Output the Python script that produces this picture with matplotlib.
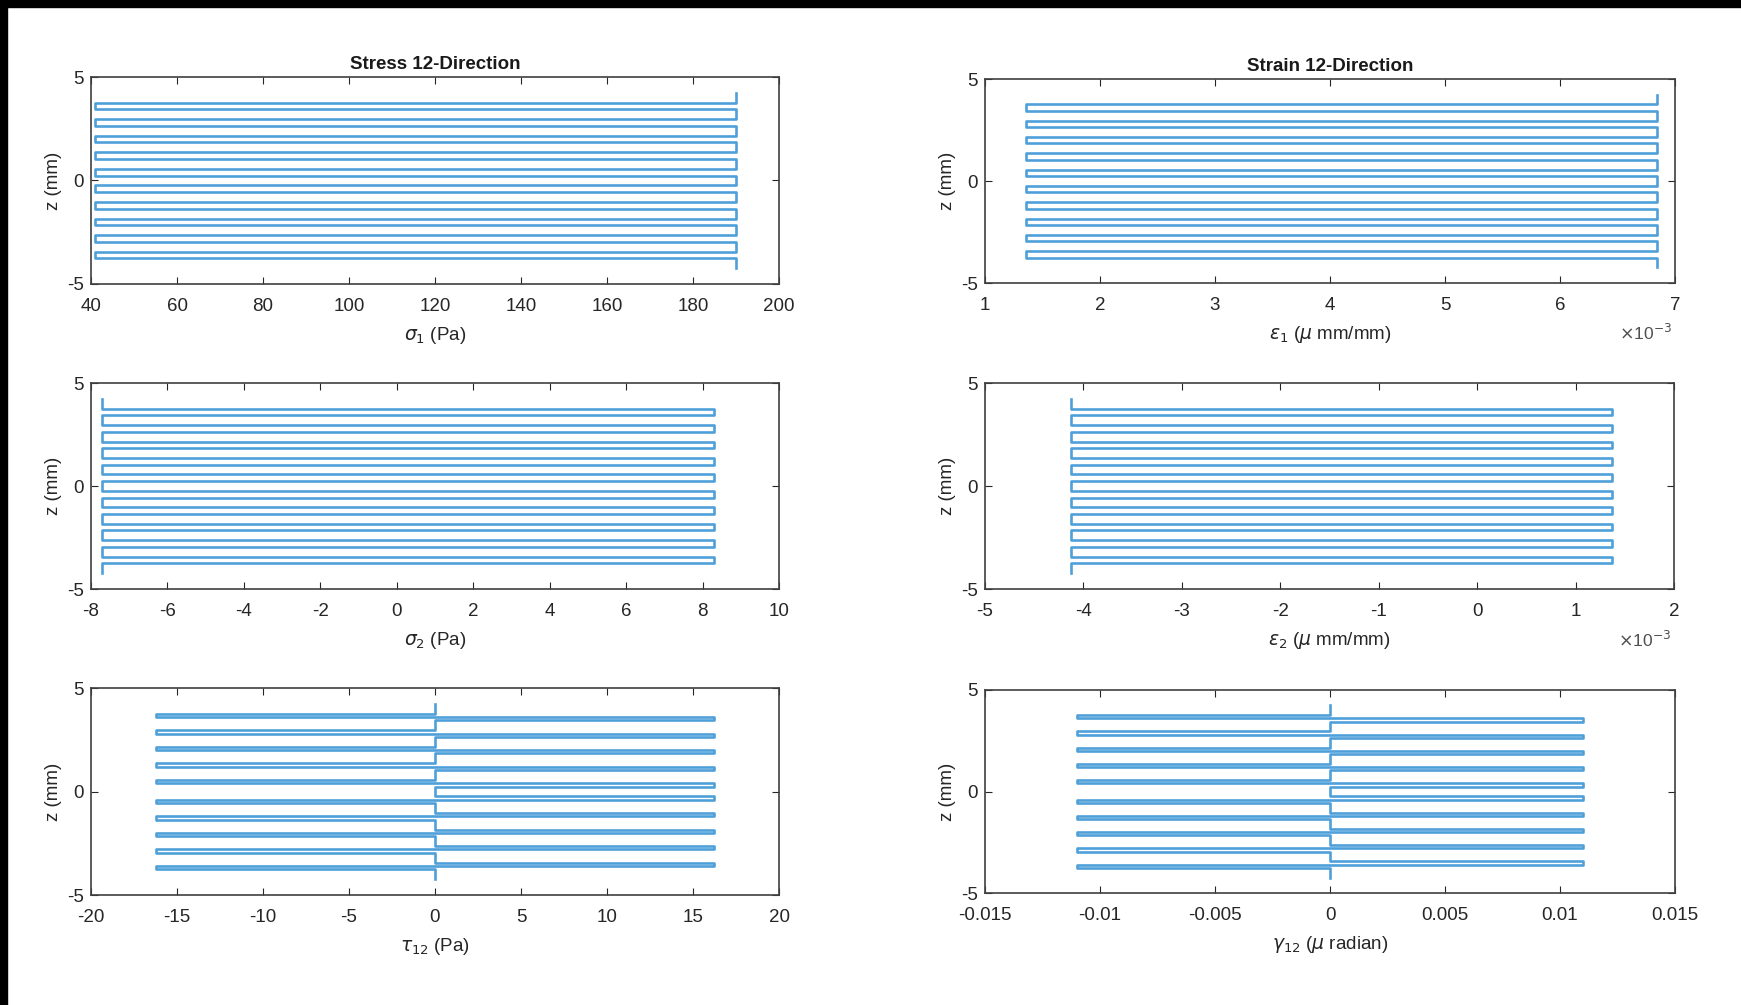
import matplotlib
matplotlib.use('Agg')
import matplotlib.pyplot as plt
from matplotlib.patches import Rectangle
from matplotlib.ticker import FuncFormatter

plt.rcParams['font.family'] = ['Liberation Sans', 'DejaVu Sans']
plt.rcParams['axes.unicode_minus'] = False
plt.rcParams['mathtext.fontset'] = 'dejavusans'

# ply interfaces through the thickness, top to bottom (mm)
z_bounds = [4.24, 3.76, 3.44, 2.96, 2.64, 2.16, 1.84, 1.36, 1.04, 0.56, 0.24,
            -0.24, -0.56, -1.04, -1.36, -1.84, -2.16, -2.64, -2.96, -3.44, -3.76, -4.24]

# values per ply (21 plies, top to bottom)
sigma1 = [190, 41, 190, 41, 190, 41, 190, 41, 190, 41, 190,
          41, 190, 41, 190, 41, 190, 41, 190, 41, 190]
sigma2 = [-7.7, 8.3, -7.7, 8.3, -7.7, 8.3, -7.7, 8.3, -7.7, 8.3, -7.7,
          8.3, -7.7, 8.3, -7.7, 8.3, -7.7, 8.3, -7.7, 8.3, -7.7]
eps1 = [6.84e-3, 1.36e-3, 6.84e-3, 1.36e-3, 6.84e-3, 1.36e-3, 6.84e-3, 1.36e-3, 6.84e-3, 1.36e-3, 6.84e-3,
        1.36e-3, 6.84e-3, 1.36e-3, 6.84e-3, 1.36e-3, 6.84e-3, 1.36e-3, 6.84e-3, 1.36e-3, 6.84e-3]
eps2 = [-4.13e-3, 1.37e-3, -4.13e-3, 1.37e-3, -4.13e-3, 1.37e-3, -4.13e-3, 1.37e-3, -4.13e-3, 1.37e-3, -4.13e-3,
        1.37e-3, -4.13e-3, 1.37e-3, -4.13e-3, 1.37e-3, -4.13e-3, 1.37e-3, -4.13e-3, 1.37e-3, -4.13e-3]
# shear: value in upper half / lower half of each ply
tau12_up = [0, -16.2, 0, -16.2, 0, -16.2, 0, -16.2, 0, -16.2, 0,
            16.2, 0, 16.2, 0, 16.2, 0, 16.2, 0, 16.2, 0]
tau12_lo = [0, 16.2, 0, 16.2, 0, 16.2, 0, 16.2, 0, 16.2, 0,
            -16.2, 0, -16.2, 0, -16.2, 0, -16.2, 0, -16.2, 0]
gam12_up = [0, -0.011, 0, -0.011, 0, -0.011, 0, -0.011, 0, -0.011, 0,
            0.011, 0, 0.011, 0, 0.011, 0, 0.011, 0, 0.011, 0]
gam12_lo = [0, 0.011, 0, 0.011, 0, 0.011, 0, 0.011, 0, 0.011, 0,
            -0.011, 0, -0.011, 0, -0.011, 0, -0.011, 0, -0.011, 0]

xticks_s1 = [40, 60, 80, 100, 120, 140, 160, 180, 200]
xticks_s2 = [-8, -6, -4, -2, 0, 2, 4, 6, 8, 10]
xticks_t12 = [-20, -15, -10, -5, 0, 5, 10, 15, 20]
xticks_e1 = [1e-3, 2e-3, 3e-3, 4e-3, 5e-3, 6e-3, 7e-3]
xticks_e2 = [-5e-3, -4e-3, -3e-3, -2e-3, -1e-3, 0, 1e-3, 2e-3]
xticks_g12 = [-0.015, -0.01, -0.005, 0, 0.005, 0.01, 0.015]


def through_thickness(up, lo, z):
    xs, ys = [], []
    for k in range(len(z) - 1):
        zm = (z[k] + z[k + 1]) / 2
        xs += [up[k], up[k], lo[k], lo[k]]
        ys += [z[k], zm, zm, z[k + 1]]
    return xs, ys


fig = plt.figure(figsize=(17.41, 10.05), dpi=100)
W, H = 1741.0, 1005.0
txt = '#262626'
line_c = '#4f9fd9'


def make_ax(left, right, top, bottom):
    return fig.add_axes([left / W, 1 - bottom / H, (right - left) / W, (bottom - top) / H])


def style(ax, xt, xlabel, sci=False):
    ax.set_ylim(-5, 5)
    ax.set_xlim(xt[0], xt[-1])
    ax.set_xticks(xt)
    ax.set_yticks([-5, 0, 5])
    ax.tick_params(direction='in', top=True, right=True, length=5, width=0.8,
                   colors=txt, labelsize=13.5)
    ax.tick_params(axis='x', pad=10)
    ax.tick_params(axis='y', pad=5)
    for s in ax.spines.values():
        s.set_color('#404040')
        s.set_linewidth(1.2)
    if sci:
        ax.xaxis.set_major_formatter(FuncFormatter(lambda v, p: '%g' % round(v * 1e3, 6)))
        ax.text(0.995, -0.245, r'$\times$10$^{-3}$', transform=ax.transAxes,
                ha='right', va='center', fontsize=12.5, color='#505050')
    else:
        ax.xaxis.set_major_formatter(FuncFormatter(lambda v, p: '%g' % v))
    ax.set_xlabel(xlabel, fontsize=13.5, color=txt, labelpad=7)
    ax.set_ylabel('z (mm)', fontsize=13.5, color=txt, labelpad=4)


panels = [
    (91, 779, 77, 284, sigma1, sigma1, xticks_s1, r'$\sigma_1$ (Pa)', False, 'Stress 12-Direction'),
    (985, 1675, 79, 283, eps1, eps1, xticks_e1, r'$\epsilon_1$ ($\mu$ mm/mm)', True, 'Strain 12-Direction'),
    (91, 779, 383, 589, sigma2, sigma2, xticks_s2, r'$\sigma_2$ (Pa)', False, None),
    (985, 1674, 383, 589, eps2, eps2, xticks_e2, r'$\epsilon_2$ ($\mu$ mm/mm)', True, None),
    (91, 779, 688, 895, tau12_up, tau12_lo, xticks_t12, r'$\tau_{12}$ (Pa)', False, None),
    (985, 1675, 690, 893, gam12_up, gam12_lo, xticks_g12, r'$\gamma_{12}$ ($\mu$ radian)', False, None),
]

for l, r, t, b, up, lo, xt, xl, sci, title in panels:
    ax = make_ax(l, r, t, b)
    xs, ys = through_thickness(up, lo, z_bounds)
    ax.plot(xs, ys, color=line_c, linewidth=1.9)
    style(ax, xt, xl, sci)
    if title:
        ax.set_title(title, fontsize=13.5, fontweight='bold', color='#1a1a1a', pad=6)

# black frame of the screenshot
fig.add_artist(Rectangle((0, 1 - 7 / H), 1, 7 / H, transform=fig.transFigure,
                         color='black', zorder=10))
fig.add_artist(Rectangle((0, 0), 7 / W, 1, transform=fig.transFigure,
                         color='black', zorder=10))

fig.savefig('out.png', dpi=100, facecolor='white')
